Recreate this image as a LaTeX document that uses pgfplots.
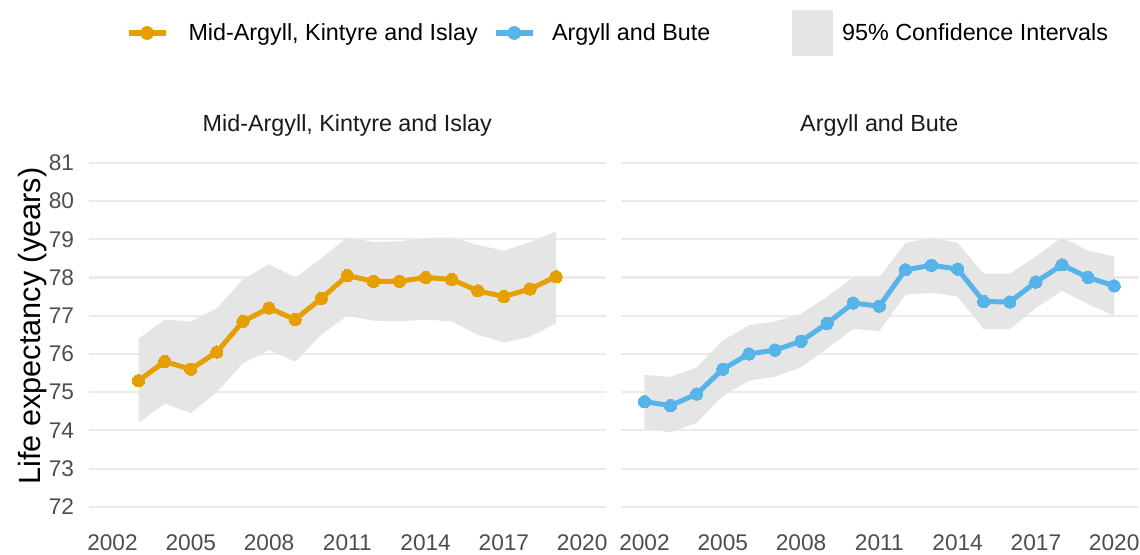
\documentclass[border=0pt]{standalone}
\usepackage{fontspec}
\setmainfont{Liberation Sans}
\usepackage{pgfplots}
\usepackage{pgfplotstable}
\pgfplotsset{compat=1.18}
\usepgfplotslibrary{fillbetween}

\definecolor{orangec}{HTML}{E69F00}
\definecolor{bluec}{HTML}{56B4E9}
\definecolor{cigray}{HTML}{E5E5E5}
\definecolor{gridc}{HTML}{EBEBEB}
\definecolor{tickc}{HTML}{4D4D4D}
\definecolor{stripc}{HTML}{1A1A1A}

% year, estimate, upper and lower 95% CI
\pgfplotstableread{
year val up lo
2003 75.30 76.40 74.20
2004 75.80 76.90 74.70
2005 75.60 76.85 74.45
2006 76.05 77.20 75.00
2007 76.85 77.95 75.75
2008 77.20 78.35 76.10
2009 76.90 78.00 75.80
2010 77.45 78.50 76.50
2011 78.05 79.05 77.00
2012 77.90 78.93 76.87
2013 77.90 78.95 76.85
2014 78.00 79.03 76.90
2015 77.95 79.05 76.85
2016 77.65 78.85 76.50
2017 77.50 78.70 76.30
2018 77.70 78.93 76.45
2019 78.02 79.20 76.80
}\tabMid

\pgfplotstableread{
year val up lo
2002 74.75 75.45 74.05
2003 74.65 75.40 73.95
2004 74.95 75.65 74.20
2005 75.60 76.35 74.90
2006 76.00 76.75 75.30
2007 76.10 76.85 75.40
2008 76.33 77.05 75.65
2009 76.80 77.50 76.15
2010 77.33 78.00 76.65
2011 77.25 78.00 76.60
2012 78.20 78.90 77.55
2013 78.32 79.05 77.60
2014 78.22 78.90 77.50
2015 77.37 78.10 76.65
2016 77.36 78.10 76.65
2017 77.88 78.55 77.20
2018 78.33 79.05 77.65
2019 78.00 78.70 77.30
2020 77.78 78.55 77.00
}\tabAB

\pgfplotsset{
  panel/.style={
    scale only axis, width=387.5pt, height=283.8pt,
    xmin=2001.1, xmax=2020.9, ymin=71.55, ymax=81.45,
    xtick={2002,2005,...,2020}, ytick={72,...,81},
    axis line style={draw=none}, major tick length=0pt,
    tick style={draw=none},
    ymajorgrids, major grid style={gridc, line width=1.6pt},
    /pgf/number format/assume math mode=true,
    /pgf/number format/1000 sep={},
    tick label style={font=\fontsize{17}{20}\selectfont, color=tickc, inner sep=0pt},
    xticklabel style={anchor=north, yshift=-7.5pt},
    yticklabel style={anchor=east, xshift=-11pt},
    clip=false,
  },
  ser/.style={line width=3.75pt, color=#1, mark=*, mark size=4.6pt,
    mark options={solid, fill=#1, draw=#1, line width=0pt}},
}

\begin{document}
\begin{tikzpicture}
\begin{axis}[panel,
  ylabel={Life expectancy (years)},
  ylabel style={at={(axis description cs:-0.0948,0.523)}, anchor=base,
    font=\fontsize{23}{27}\selectfont, color=black},
  legend columns=3,
  legend style={at={(axis description cs:0.0696,1.2976)}, anchor=west,
    draw=none, fill=none, inner sep=0pt, column sep=12.75pt,
    font=\fontsize{17.5}{21}\selectfont,
    cells={anchor=west, inner sep=0pt},
    /tikz/column 2/.style={column sep=9pt},
    /tikz/column 3/.style={column sep=10pt},
    /tikz/column 4/.style={column sep=59pt},
    /tikz/column 5/.style={column sep=5.5pt}},
]
\addplot[draw=none, name path=u, forget plot] table[x=year, y=up]{\tabMid};
\addplot[draw=none, name path=l, forget plot] table[x=year, y=lo]{\tabMid};
\addplot[cigray, forget plot] fill between[of=u and l];
\addplot[ser=orangec, forget plot] table[x=year, y=val]{\tabMid};

\addlegendimage{legend image code/.code={
  \draw[orangec, line width=5pt] (0pt,0pt) -- (27.75pt,0pt);
  \fill[orangec] (13.9pt,0pt) circle (4.9pt);}}
\addlegendentry{Mid-Argyll, Kintyre and Islay}
\addlegendimage{legend image code/.code={
  \draw[bluec, line width=5pt] (0pt,0pt) -- (27.75pt,0pt);
  \fill[bluec] (13.9pt,0pt) circle (4.9pt);}}
\addlegendentry{Argyll and Bute}
\addlegendimage{legend image code/.code={
  \fill[cigray] (0pt,-17pt) rectangle (30pt,17pt);}}
\addlegendentry{95\% Confidence Intervals}

\node[anchor=base, yshift=10.75pt, color=stripc, font=\fontsize{17.5}{21}\selectfont]
  at (axis description cs:0.5,1) {Mid-Argyll, Kintyre and Islay};
\end{axis}

\begin{axis}[panel, at={(399pt,0pt)}, anchor=south west, yticklabels={}]
\addplot[draw=none, name path=u] table[x=year, y=up]{\tabAB};
\addplot[draw=none, name path=l] table[x=year, y=lo]{\tabAB};
\addplot[cigray] fill between[of=u and l];
\addplot[ser=bluec] table[x=year, y=val]{\tabAB};
\node[anchor=base, yshift=10.75pt, color=stripc, font=\fontsize{17.5}{21}\selectfont]
  at (axis description cs:0.5,1) {Argyll and Bute};
\end{axis}

\pgfresetboundingbox
\path (-66.75pt,-22.5pt) rectangle (788.25pt,393pt);
\end{tikzpicture}
\end{document}
